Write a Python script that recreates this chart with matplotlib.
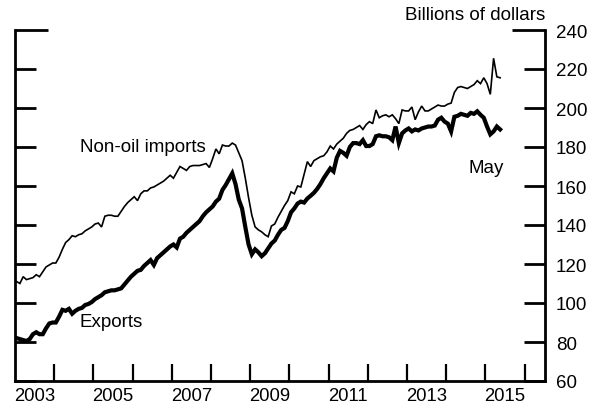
import numpy as np
import matplotlib
matplotlib.use("Agg")
import matplotlib.pyplot as plt
from matplotlib.ticker import FixedLocator, NullFormatter, FixedFormatter

plt.rcParams['font.family'] = ['Liberation Sans', 'DejaVu Sans']

start_year = 2003
# Monthly values, Jan 2003 - May 2015 (billions of dollars)
exports = [
    82, 81.5, 81, 80.5, 81.5, 84, 85, 84, 84, 87, 89.5, 90,                       # 2003
    90, 93, 96.5, 96, 97, 94.5, 96, 97, 97.5, 99, 99.5, 100.5,                    # 2004
    102, 103, 104, 105.5, 106, 106.5, 106.5, 107, 107.5, 109.5, 111.5, 113.5,     # 2005
    115, 116.5, 117, 119, 120.5, 122, 119.5, 123, 124.5, 126, 127.5, 129,         # 2006
    130, 128.5, 133, 134, 136, 137.5, 139, 140.5, 142, 144.5, 146.5, 148,         # 2007
    149.5, 152, 153.5, 158, 160.5, 163.5, 166.5, 161, 153, 148.5, 139, 130,       # 2008
    125, 127.5, 126, 124, 125.5, 128, 130.5, 132, 135, 137.5, 138.5, 142,         # 2009
    146.5, 148.5, 151, 152, 151.5, 153.6, 155, 156.5, 158.5, 161, 164, 166.5,     # 2010
    169, 167.5, 174.5, 178, 177, 175.5, 180, 182, 182, 181.5, 183.5, 180.5,       # 2011
    180.5, 181.5, 185.5, 186, 185.5, 185.5, 185, 183.5, 190.5, 182, 187, 188.5,   # 2012
    189.5, 188, 189, 188.5, 189.5, 190, 190.5, 190.5, 191, 194, 195, 193,         # 2013
    192, 188, 195.5, 196, 197, 196.5, 196, 197.5, 197, 198.3, 196.5, 195,         # 2014
    190.5, 186.5, 188, 190.5, 189,                                               # 2015
]
nonoil_imports = [
    111, 110, 113.5, 112, 112.5, 113, 114.5, 113.5, 116, 118.5, 119.5, 120.5,     # 2003
    120.5, 123.5, 127.5, 131, 132.5, 134.5, 134, 135, 135.5, 137, 138, 139,       # 2004
    140.5, 141, 139, 144.5, 145, 145, 144.5, 144.5, 147, 149.5, 151.5, 153,       # 2005
    154.5, 152.5, 156, 157.5, 157.5, 159, 159.5, 160.5, 161.5, 162.5, 164, 165.5, # 2006
    164, 167, 170, 169, 168, 170, 170.5, 170.5, 170.5, 171, 171.5, 169.5,         # 2007
    174, 179, 176.5, 181, 180.5, 180.5, 182, 181, 177, 173, 164, 154,             # 2008
    145, 139, 137.5, 136.5, 135, 134, 139.5, 140.5, 144, 147, 150, 152.5,         # 2009
    157, 156, 160, 159.5, 166, 172.5, 170, 173, 174, 175, 175.5, 177.5,           # 2010
    180.5, 179, 181.5, 183, 184.5, 187, 188.5, 189, 190, 191, 189, 191.5,         # 2011
    193, 192, 199, 195, 196, 196.5, 195.5, 196.5, 194.5, 192, 199, 198.5,         # 2012
    198.5, 200.5, 194, 198, 201, 198.5, 198.5, 199.5, 200.5, 201.5, 201, 201,     # 2013
    202, 202.5, 208, 210.5, 211, 210.5, 210, 211, 212, 214, 212.5, 215.5,         # 2014
    212.5, 207, 225.5, 216, 215.5,                                               # 2015
]
year_labels = ['2003', '2005', '2007', '2009', '2011', '2013', '2015']
y_ticks = [60, 80, 100, 120, 140, 160, 180, 200, 220]
y_top = 240

n = len(exports)
t = start_year + (np.arange(n) + 0.5) / 12.0

fig = plt.figure(figsize=(5.99, 4.06), dpi=100)
ax = fig.add_axes([15/599, (406-382)/406, 530/599, (382-31)/406])

ax.plot(t, nonoil_imports, color='black', lw=1.2, solid_joinstyle='miter')
ax.plot(t, exports, color='black', lw=3.0, solid_joinstyle='miter')

ax.set_xlim(2003, 2016.52)
ax.set_ylim(60, 240)

ax.spines['top'].set_visible(False)
for s in ['left', 'right', 'bottom']:
    ax.spines[s].set_linewidth(2.0)

# x axis: ticks at year boundaries, labels mid-year
ax.xaxis.set_major_locator(FixedLocator(np.arange(2004, 2017)))
ax.xaxis.set_major_formatter(NullFormatter())
label_pos = [int(y) + 0.5 for y in year_labels]
ax.xaxis.set_minor_locator(FixedLocator(label_pos))
ax.xaxis.set_minor_formatter(FixedFormatter(year_labels))
ax.tick_params(axis='x', which='major', direction='in', length=12.5, width=1.6)
ax.tick_params(axis='x', which='minor', length=0, pad=4.5, labelsize=13.3)

# y axis: labels on the right, ticks on both sides
ax.yaxis.set_major_locator(FixedLocator(y_ticks))
ax.yaxis.set_minor_locator(FixedLocator([y_top]))
ax.yaxis.set_minor_formatter(FixedFormatter([str(y_top)]))
ax.tick_params(axis='y', which='both', direction='in', left=True, right=True,
               labelleft=False, labelright=True, width=2.0, pad=8, labelsize=13.5)
ax.tick_params(axis='y', which='major', length=15)
ax.tick_params(axis='y', which='minor', length=23.5)

ax.text(1.0, 1.045, 'Billions of dollars', transform=ax.transAxes,
        ha='right', va='center', fontsize=13.5)
ax.text(2004.65, 180.5, 'Non-oil imports', ha='left', va='center', fontsize=13.5)
ax.text(2004.65, 90.5, 'Exports', ha='left', va='center', fontsize=13.5)
ax.text(2015.03, 169.5, 'May', ha='center', va='center', fontsize=13.5)

fig.savefig('out.png', dpi=100)
